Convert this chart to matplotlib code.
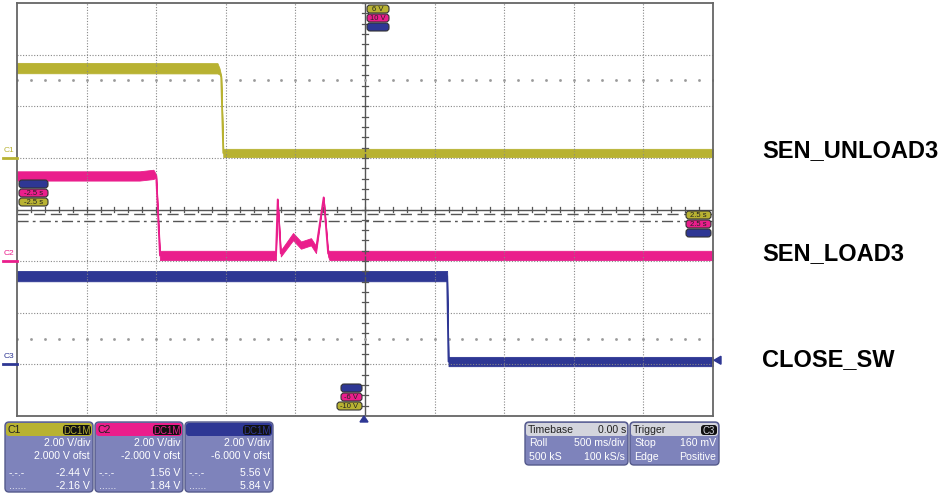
import matplotlib.pyplot as plt
import numpy as np
from matplotlib.patches import FancyBboxPatch, Polygon

plt.rcParams['font.family'] = ['Liberation Sans', 'DejaVu Sans']

# scope settings (V/div, offset V)
volts_per_div = [2.0, 2.0, 2.0]
offsets = [2.0, -2.0, -6.0]
time_per_div = 0.5  # s

# C1 trace (SEN_UNLOAD3)
c1_t = [-2.5, -1.06, -1.045, -1.033, -1.018, 2.5]
c1_v = [3.48, 3.47, 3.35, 3.15, 0.19, 0.19]
c1_noise = [0.2, 0.2, 0.12, 0.03, 0.16, 0.16]

# C2 trace (SEN_LOAD3)
c2_t = [-2.5, -1.62, -1.52, -1.50, -1.473, -0.64, -0.627, -0.605, -0.517,
        -0.46, -0.388, -0.352, -0.297, -0.265, -0.255, 2.5]
c2_v = [3.30, 3.30, 3.36, 3.30, 0.22, 0.22, 2.39, 0.30, 0.95,
        0.62, 0.75, 0.45, 2.47, 0.30, 0.22, 0.22]
c2_noise = [0.18, 0.18, 0.18, 0.05, 0.18, 0.18, 0.0, 0.12, 0.14,
            0.14, 0.14, 0.14, 0.0, 0.12, 0.18, 0.18]

# C3 trace (CLOSE_SW)
c3_t = [-2.5, 0.59, 0.60, 2.5]
c3_v = [3.42, 3.42, 0.11, 0.11]
c3_noise = [0.2, 0.2, 0.18, 0.18]

cursor_levels = [-2.44, -2.16]  # V on C1
trace_names = ["SEN_UNLOAD3", "SEN_LOAD3", "CLOSE_SW"]

yellow = '#b8b232'
magenta = '#ea1e8c'
blue = '#2e3794'
colors = [yellow, magenta, blue]

W, H = 940, 494
fig = plt.figure(figsize=(W / 100, H / 100), dpi=100)
fig.patch.set_facecolor('white')

x0, x1, y0, y1 = 17, 713, 3, 416
ax = fig.add_axes([x0 / W, 1 - y1 / H, (x1 - x0) / W, (y1 - y0) / H])
ax.set_xlim(-5 * time_per_div, 5 * time_per_div)
ax.set_ylim(-4, 4)
ax.set_xticks([])
ax.set_yticks([])
for s in ax.spines.values():
    s.set_color('#666666')
    s.set_linewidth(1.3)

# grid
for i in range(-4, 5):
    if i != 0:
        ax.axvline(i * time_per_div, color='#888888', lw=0.8, ls=(0, (1, 1.5)))
for j in range(-3, 4):
    if j != 0:
        ax.axhline(j, color='#888888', lw=0.8, ls=(0, (1, 1.5)))
ax.axhline(0, color='#555555', lw=1.0)
ax.axvline(0, color='#555555', lw=1.0)
for k in range(-25, 26):
    tx = k * time_per_div / 5
    ax.plot([tx, tx], [-0.05, 0.05], color='#555555', lw=0.9)
for k in range(-20, 21):
    ty = k / 5
    ax.plot([-0.02, 0.02], [ty, ty], color='#555555', lw=0.9)
for ty in [2.5, -2.5]:
    xs = np.arange(-25, 26) * time_per_div / 5
    ax.plot(xs, [ty] * len(xs), ls='none', marker='s', ms=0.9, color='#999999')

# cursors
cur_div = [(v + offsets[0]) / volts_per_div[0] for v in cursor_levels]
ax.axhline(cur_div[0], color='#555555', lw=1.0, ls=(0, (8, 3, 2, 3)))
ax.axhline(cur_div[1], color='#555555', lw=1.0, ls=(0, (8, 4)))

# traces
for t, v, n, off, sc, col in zip([c1_t, c2_t, c3_t], [c1_v, c2_v, c3_v],
                                 [c1_noise, c2_noise, c3_noise],
                                 offsets, volts_per_div, colors):
    t = np.array(t)
    d = (np.array(v) + off) / sc
    nd = np.array(n) / sc
    ax.fill_between(t, d - nd, d + nd, color=col, lw=0.6, ec=col)
    ax.plot(t, d, color=col, lw=1.3)

# overlay in pixel coordinates
ov = fig.add_axes([0, 0, 1, 1], facecolor='none')
ov.set_xlim(0, W)
ov.set_ylim(H, 0)
ov.axis('off')


def to_py(div):
    return 209.5 - div * (y1 - y0) / 8


# channel ground markers
for i, (off, sc, col) in enumerate(zip(offsets, volts_per_div, colors)):
    gy = to_py(off / sc)
    ov.plot([3, 17], [gy, gy], color=col, lw=2)
    ov.text(4, gy - 4, "C%d" % (i + 1), color=col, fontsize=6, va='bottom')

# trigger markers
tl = to_py((0.16 + offsets[2]) / volts_per_div[2])
ov.add_patch(Polygon([[714, tl], [721, tl - 4], [721, tl + 4]], color=blue))
ov.add_patch(Polygon([[364, 416], [360, 422], [368, 422]], color=blue))


def badge(x, y, w, h, fc, txt, tc='#222222'):
    ov.add_patch(FancyBboxPatch((x, y), w, h, boxstyle="round,pad=0,rounding_size=3",
                                fc=fc, ec='#333333', lw=0.8))
    ov.text(x + w / 2, y + h / 2 + 0.5, txt, fontsize=5.5, color=tc,
            ha='center', va='center')


badge(367, 5, 22, 8, yellow, "6 V")
badge(367, 14, 22, 8, magenta, "10 V")
badge(367, 23, 22, 8, blue, "")
badge(341, 384, 21, 8, blue, "")
badge(341, 393, 21, 8, magenta, "-6 V")
badge(337, 402, 25, 8, yellow, "-10 V")
badge(19, 180, 29, 8, blue, "")
badge(19, 189, 29, 8, magenta, "-2.5 s")
badge(19, 198, 29, 8, yellow, "-2.5 s")
badge(686, 211, 25, 8, yellow, "2.5 s")
badge(686, 220, 25, 8, magenta, "2.5 s")
badge(686, 229, 25, 8, blue, "")

# trace names on right
for name, off, lev in zip(trace_names, offsets, [0.19, 0.22, 0.11]):
    ov.text(762, to_py((lev + off) / 2) - 2, name, fontsize=17,
            fontweight='bold', va='center', ha='left', color='black')

# info panels
body = '#7e83bb'
edge = '#555a8c'
txtc = 'white'


def panel(x, w, rows_h, header_fc, left, right_box, right_txt, rows, hdr_tc='#222222'):
    ov.add_patch(FancyBboxPatch((x, 422), w, rows_h, boxstyle="round,pad=0,rounding_size=4",
                                fc=body, ec=edge, lw=1))
    ov.add_patch(FancyBboxPatch((x + 1, 423), w - 2, 13, boxstyle="round,pad=0,rounding_size=3",
                                fc=header_fc, ec='none'))
    ov.text(x + 3, 430, left, fontsize=7.6, color=hdr_tc, va='center')
    if right_box:
        bw = len(right_txt) * 6 + 4
        ov.add_patch(FancyBboxPatch((x + w - bw - 2, 425), bw, 10,
                                    boxstyle="round,pad=0,rounding_size=3",
                                    fc='#111111', ec='none'))
        ov.text(x + w - bw / 2 - 2, 430.5, right_txt, fontsize=7, color=header_fc,
                ha='center', va='center')
    else:
        ov.text(x + w - 2, 430, right_txt, fontsize=7.6, color=hdr_tc, ha='right', va='center')
    for ry, l, r in rows:
        if l:
            ov.text(x + 4, ry, l, fontsize=7.6, color=txtc, va='center')
        ov.text(x + w - 3, ry, r, fontsize=7.6, color=txtc, va='center', ha='right')


for i, (px, col) in enumerate(zip([5, 95, 185], colors)):
    off = offsets[i]
    cur = [c + (offsets[0] - off) for c in cursor_levels]
    lab = "C%d" % (i + 1) if i < 2 else ""
    panel(px, 88, 70, col, lab, True, "DC1M",
          [(443, "", "%.2f V/div" % volts_per_div[i]),
           (456, "", "%.3f V ofst" % off),
           (473, "-.-.-", "%.2f V" % cur[0]),
           (486, "......", "%.2f V" % cur[1])],
          hdr_tc='#222222' if i < 2 else '#5a60b0')

panel(525, 103, 43, '#d4d5dd', "Timebase", False, "0.00 s",
      [(443, "Roll", "500 ms/div"), (457, "500 kS", "100 kS/s")])
panel(630, 89, 43, '#d4d5dd', "Trigger", True, "C3",
      [(443, "Stop", "160 mV"), (457, "Edge", "Positive")])

fig.savefig("out.png", dpi=100)
